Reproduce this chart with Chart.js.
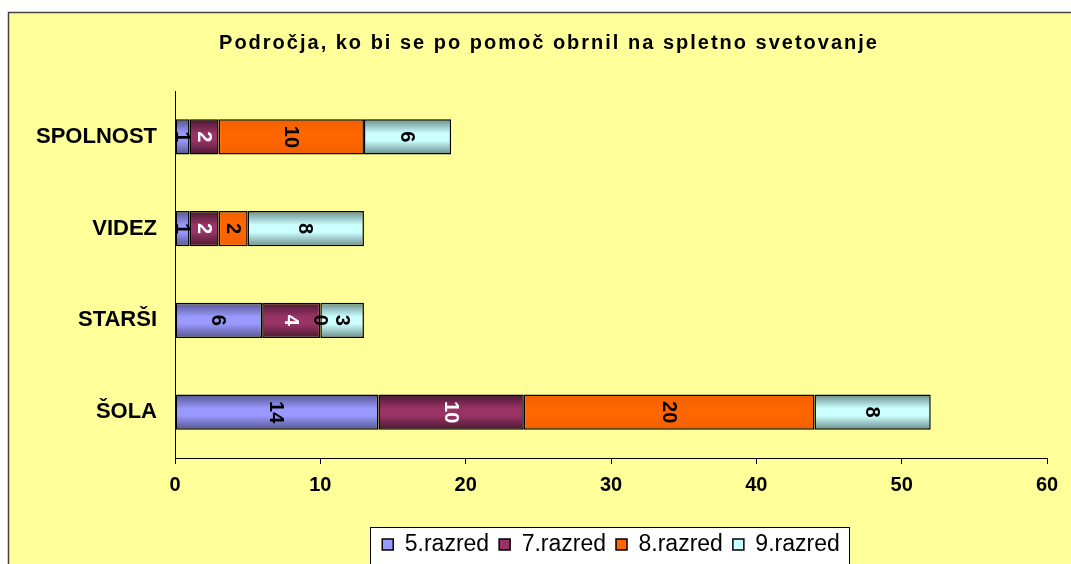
<!DOCTYPE html>
<html>
<head>
<meta charset="utf-8">
<script src="https://cdn.jsdelivr.net/npm/chart.js@4"></script>
<style>
  html, body { margin: 0; padding: 0; background: #ffffff; }
  #wrap { width: 1071px; height: 564px; position: relative; }
</style>
</head>
<body>
<div id="wrap"><canvas id="c"></canvas></div>
<script>
const TITLE = 'Področja, ko bi se po pomoč obrnil na spletno svetovanje';
const categories = ['SPOLNOST', 'VIDEZ', 'STARŠI', 'ŠOLA'];
const seriesNames = ['5.razred', '7.razred', '8.razred', '9.razred'];
const razred5 = [1, 1, 6, 14];
const razred7 = [2, 2, 4, 10];
const razred8 = [10, 2, 0, 20];
const razred9 = [6, 8, 3, 8];
const xTicks = [0, 10, 20, 30, 40, 50, 60];

const lightColors = ['#9999FF', '#993366', '#FF6600', '#CCFFFF'];
const darkColors  = ['#55558F', '#4A1831', '#F26000', '#6A8C8C'];
const labelColors = ['#000000', '#FFFFFF', '#000000', '#000000'];
const FONT = '"Liberation Sans", Arial, sans-serif';

const seriesValues = [razred5, razred7, razred8, razred9];
const datasets = seriesValues.map((vals, i) => ({
  label: seriesNames[i],
  data: vals,
  // scriptable so each bar gets its own options object (gradient set per bar below)
  backgroundColor: (c) => lightColors[c.datasetIndex],
  borderColor: '#000000',
  borderWidth: 1.5,
  borderSkipped: false,
  barPercentage: 1.0,
  categoryPercentage: 0.385
}));

const LEGEND_H = 41;
const CHART_TOP = 91;
const AXIS_LEFT = 175;
const AXIS_BOTTOM = 458;

const backgroundPlugin = {
  id: 'bg',
  beforeDraw(chart) {
    const ctx = chart.ctx;
    ctx.save();
    ctx.fillStyle = '#ffffff';
    ctx.fillRect(0, 0, chart.width, chart.height);
    ctx.fillStyle = '#FFFF99';
    ctx.fillRect(8, 12, chart.width - 8, chart.height - 12);
    ctx.strokeStyle = '#444444';
    ctx.lineWidth = 1.5;
    ctx.beginPath();
    ctx.moveTo(8.5, chart.height);
    ctx.lineTo(8.5, 12.5);
    ctx.lineTo(chart.width, 12.5);
    ctx.stroke();
    const lg = chart.legend;
    if (lg && lg.legendHitBoxes && lg.legendHitBoxes.length && Number.isFinite(lg.top)) {
      const hb = lg.legendHitBoxes;
      const minX = Math.min(...hb.map(b => b.left)) - 12;
      const maxX = Math.max(...hb.map(b => b.left + b.width)) + 10;
      const top = 527;
      ctx.fillStyle = '#ffffff';
      ctx.fillRect(minX, top, maxX - minX, chart.height - top + 5);
      chart.$legendFrame = {minX, maxX, top};
    }
    ctx.restore();
  },
  afterDraw(chart) {
    const ctx = chart.ctx;
    ctx.save();
    const f = chart.$legendFrame;
    if (f) {
      ctx.strokeStyle = '#000000';
      ctx.lineWidth = 1;
      ctx.strokeRect(Math.round(f.minX) + 0.5, Math.round(f.top) + 0.5, Math.round(f.maxX - f.minX), chart.height);
    }
    ctx.fillStyle = '#000000';
    ctx.font = 'bold 20px ' + FONT;
    if ('letterSpacing' in ctx) ctx.letterSpacing = '2px';
    ctx.textAlign = 'center';
    ctx.textBaseline = 'middle';
    ctx.fillText(TITLE, 549, 43);
    ctx.restore();
  }
};

const gradientPlugin = {
  id: 'grad',
  beforeDatasetsDraw(chart) {
    const ctx = chart.ctx;
    chart.data.datasets.forEach((ds, i) => {
      const meta = chart.getDatasetMeta(i);
      meta.data.forEach(el => {
        const y = el.y, h = el.height;
        if (!Number.isFinite(y) || !Number.isFinite(h)) return;
        const g = ctx.createLinearGradient(0, y - h / 2, 0, y + h / 2);
        g.addColorStop(0, darkColors[i]);
        g.addColorStop(0.4, lightColors[i]);
        g.addColorStop(0.6, lightColors[i]);
        g.addColorStop(1, darkColors[i]);
        el.options = Object.assign({}, el.options, { backgroundColor: g });
      });
    });
  }
};

const labelPlugin = {
  id: 'vals',
  afterDatasetsDraw(chart) {
    const ctx = chart.ctx;
    ctx.save();
    ctx.font = 'bold 20px ' + FONT;
    ctx.textAlign = 'center';
    ctx.textBaseline = 'middle';
    chart.data.datasets.forEach((ds, i) => {
      const meta = chart.getDatasetMeta(i);
      meta.data.forEach((el, j) => {
        if (!Number.isFinite(el.x) || !Number.isFinite(el.base)) return;
        const cx = (el.x + el.base) / 2;
        ctx.save();
        ctx.translate(cx, el.y);
        ctx.rotate(Math.PI / 2);
        ctx.fillStyle = labelColors[i];
        ctx.fillText(String(ds.data[j]), 0, 1);
        ctx.restore();
      });
    });
    ctx.restore();
  }
};

new Chart(document.getElementById('c'), {
  type: 'bar',
  data: { labels: categories, datasets },
  options: {
    indexAxis: 'y',
    responsive: true,
    maintainAspectRatio: false,
    animation: false,
    layout: { padding: { top: CHART_TOP, left: 0, right: 24, bottom: 0 } },
    plugins: {
      title: { display: false, text: TITLE },
      tooltip: { enabled: false },
      legend: {
        position: 'bottom',
        fullSize: false,
        maxHeight: LEGEND_H,
        labels: {
          color: '#000000',
          font: { family: FONT, size: 23 },
          boxWidth: 11,
          boxHeight: 11,
          padding: 10
        }
      }
    },
    scales: {
      x: {
        stacked: true,
        min: 0,
        max: 60,
        afterBuildTicks(scale) { scale.ticks = xTicks.map(v => ({ value: v })); },
        afterFit(scale) {
          const lg = scale.chart.legend;
          const lh = (lg && Number.isFinite(lg.height) && lg.height > 0) ? lg.height : LEGEND_H;
          scale.height = 564 - lh - AXIS_BOTTOM;
        },
        grid: { display: true, drawOnChartArea: false, drawTicks: true, tickLength: 6, color: '#000000', lineWidth: 1 },
        border: { display: true, color: '#000000', width: 1 },
        ticks: { color: '#000000', font: { family: FONT, size: 20, weight: 'bold' }, padding: 9, maxRotation: 0 }
      },
      y: {
        stacked: true,
        afterFit(scale) { scale.width = AXIS_LEFT; },
        grid: { display: false, drawTicks: false },
        border: { display: true, color: '#000000', width: 1 },
        ticks: { color: '#000000', font: { family: FONT, size: 22, weight: 'bold' }, padding: 18 }
      }
    }
  },
  plugins: [backgroundPlugin, gradientPlugin, labelPlugin]
});
</script>
</body>
</html>
